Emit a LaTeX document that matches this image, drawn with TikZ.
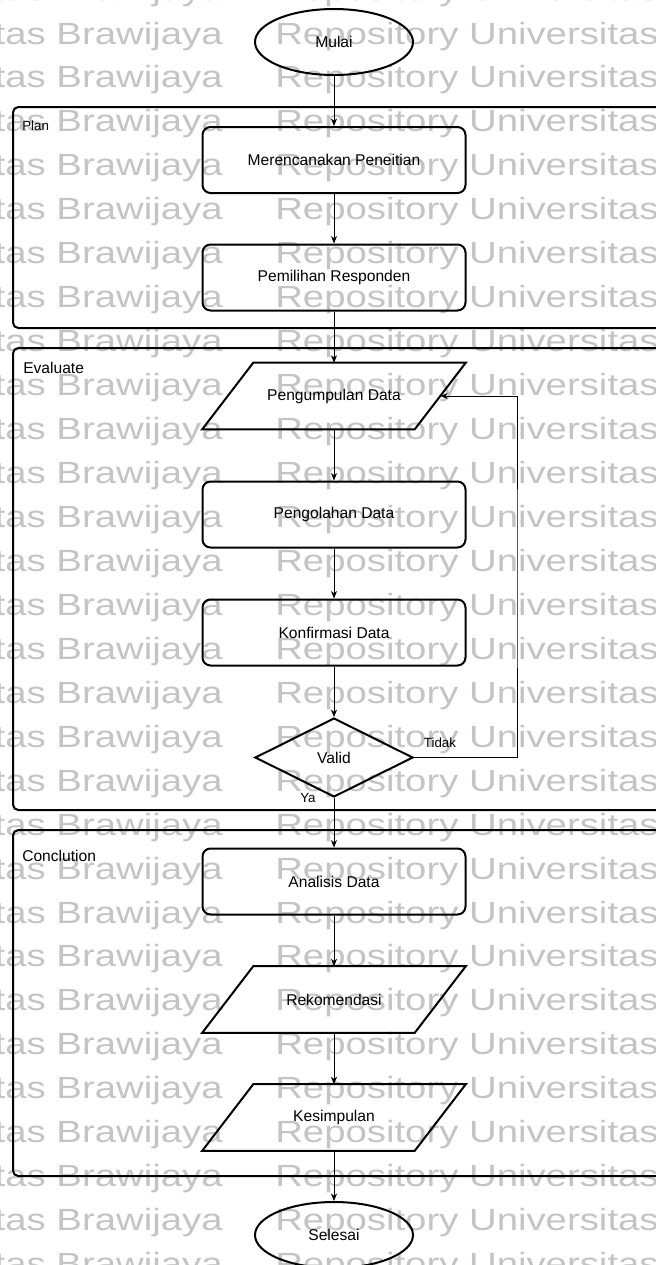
\documentclass[tikz,border=0pt]{standalone}
\usepackage{fontspec}
\setmainfont{Liberation Sans}
\usetikzlibrary{arrows.meta,calc,shapes.geometric}

\definecolor{wmgray}{RGB}{196,196,196}

\begin{document}
\begin{tikzpicture}[x=0.75pt,y=-0.75pt,
  every node/.style={font=\fontsize{11.7}{14}\selectfont, inner sep=0pt},
  box/.style={draw, line width=1.5pt, rounded corners=6pt,
    minimum width=197.25pt, minimum height=49.5pt},
  io/.style={minimum width=197.25pt, minimum height=49.5pt},
  ioline/.style={draw, line width=1.5pt, line join=miter},
  term/.style={draw, ellipse, line width=1.5pt,
    minimum width=118.5pt, minimum height=49.5pt},
  dec/.style={draw, diamond, line width=1.5pt,
    minimum width=118.5pt, minimum height=59.25pt},
  lane/.style={draw, line width=1.5pt, rounded corners=4pt, anchor=north west,
    minimum width=493.5pt},
  lanelabel/.style={anchor=west},
  small/.style={font=\fontsize{10}{12}\selectfont},
  arr/.style={line width=0.75pt, -{Stealth[length=5.5pt,width=4.5pt,inset=1.5pt]}},
  wm/.style={text=wmgray, font=\fontsize{23}{26}\selectfont}
]
\useasboundingbox (0,0) rectangle (656,1265);
\clip (0,0) rectangle (656,1265);

% repository watermark rows
\foreach \k in {-1,...,28}{
  \pgfmathsetmacro{\yy}{44+43.95*\k}
  \node[wm, anchor=base east] at (223,\yy) {\scalebox{1.25}[1]{Universitas Brawijaya}};
  \node[wm, anchor=base west] at (275,\yy) {\scalebox{1.25}[1]{Repository Universitas}};
}

% swimlanes
\node[lane, minimum height=165.75pt] (planLane) at (12,106) {};
\node[lane, minimum height=346.5pt] (evalLane) at (12,347) {};
\node[lane, minimum height=259.5pt] (concLane) at (12,829) {};
\node[lanelabel, small] (planLbl) at (22,126) {Plan};
\node[lanelabel] (evalLbl) at (23,368) {Evaluate};
\node[lanelabel] (concLbl) at (22,856) {Conclution};

% flow steps
\node[term] (mulai) at (334,42) {Mulai};
\node[box] (rencana) at (334,160) {Merencanakan Peneitian};
\node[box] (pilih) at (334,277.5) {Pemilihan Responden};
\node[io] (kumpul) at (334,396) {Pengumpulan Data};
\node[box] (olah) at (334,514.5) {Pengolahan Data};
\node[box] (konf) at (334,632.5) {Konfirmasi Data};
\node[dec] (valid) at (334,757.5) {Valid};
\node[box] (analisis) at (334,881.5) {Analisis Data};
\node[io] (rekom) at (334,999.5) {Rekomendasi};
\node[io] (simpul) at (334,1117.5) {Kesimpulan};
\node[term] (selesai) at (334,1235) {Selesai};

% parallelogram outlines of the data steps
\foreach \p in {kumpul,rekom,simpul}{
  \draw[ioline] ([xshift=38.25pt]\p.north west) -- (\p.north east)
    -- ([xshift=-38.25pt]\p.south east) -- (\p.south west) -- cycle;
}
\coordinate (kumpulBR) at ([xshift=-38.25pt]kumpul.south east);
\coordinate (kumpulR) at ($(kumpul.north east)!0.5!(kumpulBR)$);
\coordinate (loopX) at (517,580);

% connectors
\draw[arr] (mulai) -- (rencana);
\draw[arr] (rencana) -- (pilih);
\draw[arr] (pilih) -- (kumpul);
\draw[arr] (kumpul) -- (olah);
\draw[arr] (olah) -- (konf);
\draw[arr] (konf) -- (valid);
\draw[arr] (valid) -- (analisis);
\draw[arr] (analisis) -- (rekom);
\draw[arr] (rekom) -- (simpul);
\draw[arr] (simpul) -- (selesai);
\draw[arr] (valid.east) -| (loopX) |- (kumpulR);

\node[small] (tidak) at (440,743) {Tidak};
\node[small] (ya) at (308,798) {Ya};
\end{tikzpicture}
\end{document}
